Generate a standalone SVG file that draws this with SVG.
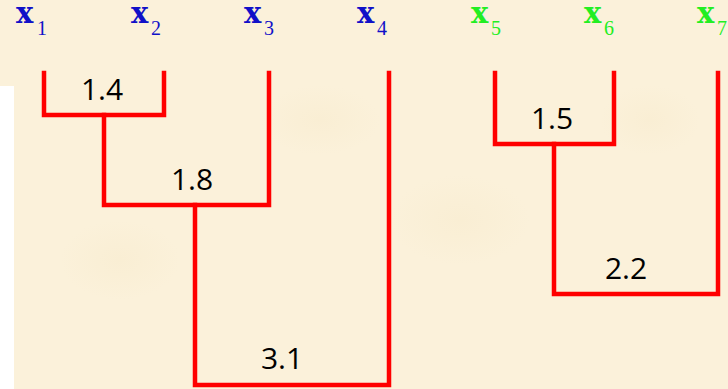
<svg xmlns="http://www.w3.org/2000/svg" width="728" height="389" viewBox="0 0 728 389">
<defs>
<style>
.bg{fill:#FBF1DA}
.link{fill:none;stroke:#FF0000;stroke-width:4.5;stroke-linejoin:miter;stroke-linecap:square}
.xv{font-family:"DejaVu Serif",serif;font-weight:bold;font-size:29px}
.sub{font-family:"Liberation Serif",serif;font-size:20px}
.blue{fill:#1010C8}
.green{fill:#22EE22}
.h{font-family:"Open Sans","Liberation Sans",sans-serif;font-size:30px;fill:#000;text-anchor:middle}
</style>
<radialGradient id="blot" cx="0.5" cy="0.5" r="0.5">
<stop offset="0" stop-color="#F6E8C8" stop-opacity="0.35"/>
<stop offset="1" stop-color="#F6E8C8" stop-opacity="0"/>
</radialGradient>
</defs>
<rect class="bg" x="0" y="0" width="728" height="389"/>
<ellipse cx="120" cy="260" rx="60" ry="40" fill="url(#blot)"/>
<ellipse cx="460" cy="220" rx="70" ry="45" fill="url(#blot)"/>
<ellipse cx="320" cy="120" rx="60" ry="35" fill="url(#blot)"/>
<ellipse cx="650" cy="120" rx="50" ry="35" fill="url(#blot)"/>
<rect x="0" y="86" width="14" height="303" fill="#FFFFFF"/>

<g id="leaf-x1"><text class="xv blue" x="16" y="23">x</text><text class="sub blue" x="37" y="35">1</text></g>
<g id="leaf-x2"><text class="xv blue" x="131" y="23">x</text><text class="sub blue" x="151" y="35">2</text></g>
<g id="leaf-x3"><text class="xv blue" x="244" y="23">x</text><text class="sub blue" x="264" y="35">3</text></g>
<g id="leaf-x4"><text class="xv blue" x="357" y="23">x</text><text class="sub blue" x="377" y="35">4</text></g>
<g id="leaf-x5"><text class="xv green" x="471" y="23">x</text><text class="sub green" x="491" y="35">5</text></g>
<g id="leaf-x6"><text class="xv green" x="584" y="23">x</text><text class="sub green" x="604" y="35">6</text></g>
<g id="leaf-x7"><text class="xv green" x="697" y="23">x</text><text class="sub green" x="717" y="35">7</text></g>

<g id="connectors">
<path class="link" d="M44,73 V115 H164 V73"/>
<path class="link" d="M104,115 V205 H269 V73"/>
<path class="link" d="M195,205 V385 H389 V73"/>
<path class="link" d="M495,73 V144 H614 V73"/>
<path class="link" d="M554,144 V294 H718 V73"/>
</g>

<g id="merge-1.4"><text class="h" x="102" y="100">1.4</text></g>
<g id="merge-1.8"><text class="h" x="192" y="190">1.8</text></g>
<g id="merge-3.1"><text class="h" x="282" y="369">3.1</text></g>
<g id="merge-1.5"><text class="h" x="552" y="129">1.5</text></g>
<g id="merge-2.2"><text class="h" x="626" y="279">2.2</text></g>
</svg>
